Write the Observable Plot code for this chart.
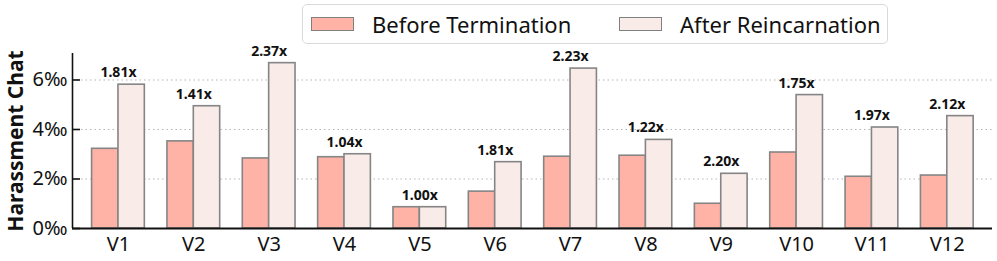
<!DOCTYPE html>
<html>
<head>
<meta charset="utf-8">
<script src="https://cdn.jsdelivr.net/npm/d3@7"></script>
<script src="https://cdn.jsdelivr.net/npm/@observablehq/plot@0.6"></script>
<style>
  html, body { margin: 0; padding: 0; background: #fff; }
  #wrap { position: relative; width: 997px; height: 261px; font-family: "Noto Sans", sans-serif; }
  #legend { position: absolute; left: 0; top: 0; width: 997px; height: 45px; z-index: 2; }
  #legend .box { position: absolute; left: 302px; top: 4px; width: 586px; height: 40px; border: 1px solid #d9d9d9; border-radius: 5px; box-sizing: border-box; background: rgba(255,255,255,0.9); }
  #legend .item { position: absolute; top: 0; height: 38px; display: flex; align-items: center; font-size: 22px; color: #111; }
  #legend .sw { width: 43px; height: 14px; border: 1.5px solid #808080; margin-right: 18px; box-sizing: border-box; }
  #chart { position: absolute; left: 0; top: 0; }
</style>
</head>
<body>
<div id="wrap">
  <div id="chart"></div>
  <div id="legend"></div>
</div>
<script>
const versions = ["V1","V2","V3","V4","V5","V6","V7","V8","V9","V10","V11","V12"];
const beforeTermination = [3.22, 3.52, 2.83, 2.88, 0.86, 1.49, 2.90, 2.94, 1.00, 3.07, 2.09, 2.14];
const afterReincarnation = [5.81, 4.94, 6.68, 3.00, 0.86, 2.68, 6.46, 3.58, 2.21, 5.39, 4.08, 4.54];
const ratioLabels = ["1.81x","1.41x","2.37x","1.04x","1.00x","1.81x","2.23x","1.22x","2.20x","1.75x","1.97x","2.12x"];
const seriesNames = ["Before Termination", "After Reincarnation"];
const yTicks = [0, 2, 4, 6];

const colors = { before: "#ffb3a7", after: "#f8ebe8", stroke: "#858585" };

const rows = versions.map((v, i) => ({
  i, version: v, before: beforeTermination[i], after: afterReincarnation[i], ratio: ratioLabels[i]
}));

const half = 0.35;
const xDomain = [-0.61, versions.length - 1 + 0.6];

// legend
const legend = document.getElementById("legend");
const box = document.createElement("div"); box.className = "box"; legend.appendChild(box);
[[seriesNames[0], colors.before, 8], [seriesNames[1], colors.after, 316]].forEach(([name, fill, left]) => {
  const it = document.createElement("div"); it.className = "item"; it.style.left = left + "px";
  const sw = document.createElement("div"); sw.className = "sw"; sw.style.background = fill;
  const tx = document.createElement("span"); tx.textContent = name;
  it.appendChild(sw); it.appendChild(tx); box.appendChild(it);
});

const plot = Plot.plot({
  width: 997,
  height: 261,
  marginLeft: 72,
  marginRight: 5,
  marginTop: 53,
  marginBottom: 33,
  style: { fontFamily: "Noto Sans, sans-serif", color: "#111", background: "transparent", overflow: "visible" },
  x: { type: "linear", domain: xDomain },
  y: { domain: [0, 7.07] },
  marks: [
    Plot.ruleY([2, 4, 6], { stroke: "#b5b5b5", strokeWidth: 1.2, strokeDasharray: "1.5,3" }),
    Plot.rectY(rows, { x1: d => d.i - half, x2: d => d.i, y1: 0, y2: "before", fill: colors.before, stroke: colors.stroke, strokeWidth: 1.6 }),
    Plot.rectY(rows, { x1: d => d.i, x2: d => d.i + half, y1: 0, y2: "after", fill: colors.after, stroke: colors.stroke, strokeWidth: 1.6 }),
    Plot.text(rows, { x: "i", y: "after", text: "ratio", dy: -12, fontSize: 14, fontWeight: "bold", fill: "#111" }),
    Plot.ruleY([0], { stroke: "#111", strokeWidth: 2 }),
    Plot.ruleX([xDomain[0]], { stroke: "#111", strokeWidth: 1.6 }),
    Plot.axisY({ ticks: yTicks, tickFormat: d => d + "‰", tickSize: 8, dx: 8, tickPadding: 5, fontSize: 20, stroke: "#111", strokeWidth: 1.6,
      label: "Harassment Chat", labelAnchor: "center", labelArrow: "none", labelOffset: 64 }),
    Plot.axisX({ ticks: versions.map((_, i) => i), tickFormat: i => versions[i], tickSize: 0, tickPadding: 8, fontSize: 20, label: null })
  ]
});
// bold y label
plot.querySelectorAll("g[aria-label='y-axis label']").forEach(el => { el.style.fontWeight = "bold"; el.style.fontSize = "21px"; });
document.getElementById("chart").appendChild(plot);
</script>
</body>
</html>
